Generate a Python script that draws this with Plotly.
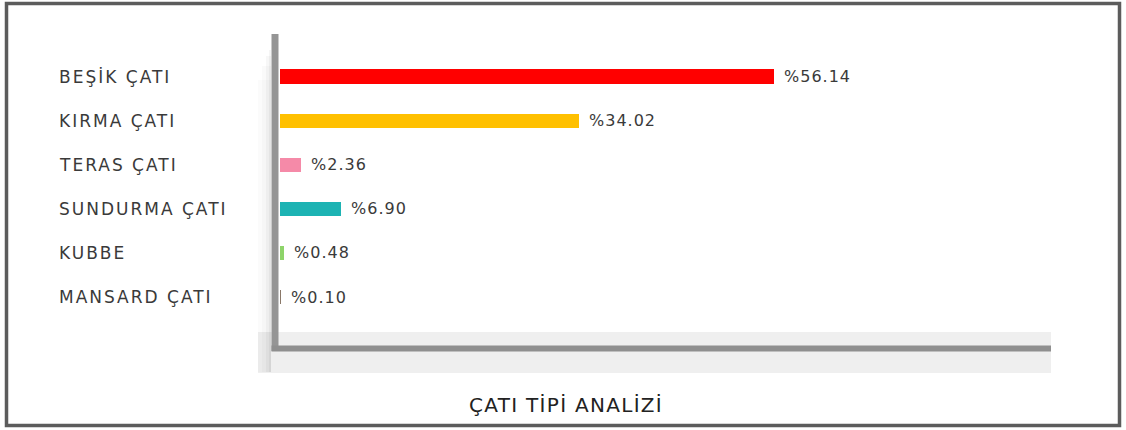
import plotly.graph_objects as go

# Roof type distribution (percent of buildings)
categories = ["BEŞİK ÇATI", "KIRMA ÇATI", "TERAS ÇATI", "SUNDURMA ÇATI", "KUBBE", "MANSARD ÇATI"]
shares = [56.14, 34.02, 2.36, 6.90, 0.48, 0.10]
bar_colors = ["#ff0000", "#ffc000", "#f58aa8", "#1db3b3", "#8ed46a", "#8a7868"]
title_text = "ÇATI TİPİ ANALİZİ"

FIG_W, FIG_H = 1126, 430
M_L, M_R, M_T, M_B = 280, 75, 34, 82
PW = FIG_W - M_L - M_R
PH = FIG_H - M_T - M_B
FONT = "DejaVu Sans"
TEXT_COL = "#3a3a3a"


def px_x(p):
    return (p - M_L) / PW


def px_y(p):
    return (FIG_H - M_B - p) / PH


def spaced(s, ls):
    return f'<span style="letter-spacing:{ls}px">{s}</span>'


fig = go.Figure()
fig.add_trace(go.Bar(
    x=shares,
    y=categories,
    orientation="h",
    width=0.32,
    marker=dict(color=bar_colors, line=dict(width=0)),
    hoverinfo="skip",
))

# value labels just past each bar end
for cat, v in zip(categories, shares):
    fig.add_annotation(
        x=v, y=cat, xref="x", yref="y",
        text=spaced(f"%{v:.2f}", 1.0), showarrow=False,
        xanchor="left", xshift=8,
        font=dict(family=FONT, size=16, color=TEXT_COL),
    )

# left-aligned category labels
for cat in categories:
    fig.add_annotation(
        x=px_x(57), y=cat, xref="paper", yref="y",
        text=spaced(cat, 2.0), showarrow=False, xanchor="left",
        font=dict(family=FONT, size=17, color=TEXT_COL),
    )

# chart title below the plot
fig.add_annotation(
    x=px_x(467), y=px_y(405), xref="paper", yref="paper",
    text=spaced(title_text, 1.3), showarrow=False, xanchor="left", yanchor="middle",
    font=dict(family=FONT, size=20, color="#222222"),
)

shapes = []
# light band behind the baseline
shapes.append(dict(type="rect", xref="paper", yref="paper", layer="below",
                   x0=px_x(258), x1=px_x(1051), y0=px_y(373), y1=px_y(332),
                   fillcolor="#efefef", line=dict(width=0)))
# soft shadow left of the value axis
for x0, y1, op in [(258, 80, 0.015), (262, 66, 0.02), (266, 56, 0.03), (269, 50, 0.04)]:
    shapes.append(dict(type="rect", xref="paper", yref="paper", layer="below",
                       x0=px_x(x0), x1=px_x(271), y0=px_y(372), y1=px_y(y1),
                       fillcolor=f"rgba(0,0,0,{op})", line=dict(width=0)))
# axis lines
shapes.append(dict(type="line", xref="paper", yref="paper",
                   x0=px_x(275), x1=px_x(275), y0=px_y(34), y1=px_y(351),
                   line=dict(color="#959595", width=7)))
shapes.append(dict(type="line", xref="paper", yref="paper",
                   x0=px_x(271.5), x1=px_x(1051), y0=px_y(348.5), y1=px_y(348.5),
                   line=dict(color="#8f8f8f", width=6)))
# outer frame
shapes.append(dict(type="rect", xref="paper", yref="paper",
                   x0=px_x(6.5), x1=px_x(1119.5), y0=px_y(425.5), y1=px_y(3.5),
                   line=dict(color="#5c5c5c", width=3.5), fillcolor="rgba(0,0,0,0)"))

fig.update_layout(
    width=FIG_W, height=FIG_H,
    margin=dict(l=M_L, r=M_R, t=M_T, b=M_B, autoexpand=False),
    paper_bgcolor="white", plot_bgcolor="rgba(0,0,0,0)",
    showlegend=False,
    shapes=shapes,
    xaxis=dict(range=[0, PW / 8.8], visible=False, fixedrange=True),
    yaxis=dict(type="category", categoryorder="array", categoryarray=categories,
               range=[(FIG_H - M_B - 76.5) / 44.1, (M_T - 76.5) / 44.1],
               visible=False, fixedrange=True),
    bargap=0,
)

fig.write_html("out.html", config={"displayModeBar": False})
